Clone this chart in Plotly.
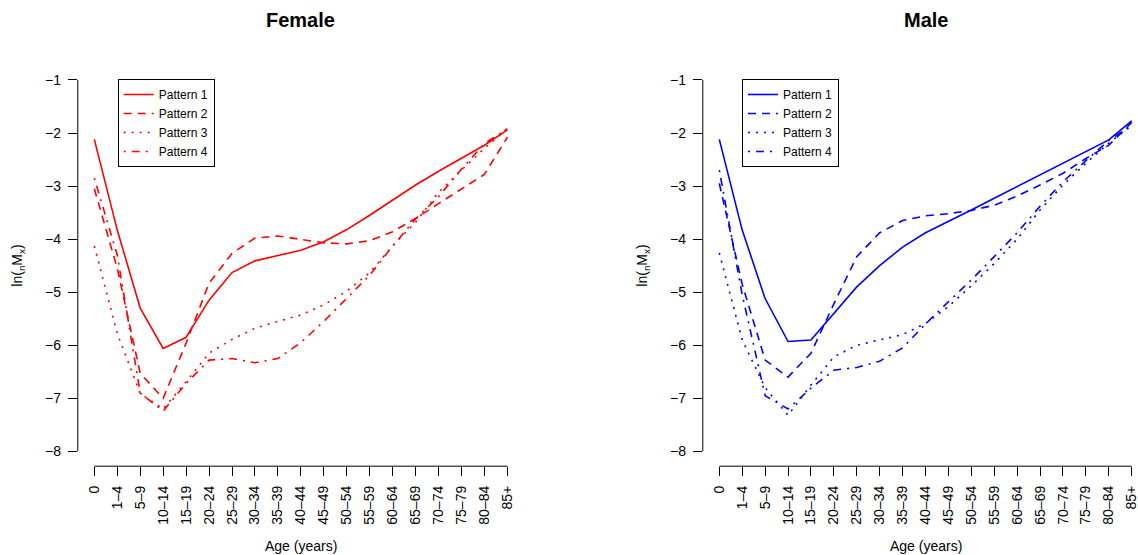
import plotly.graph_objects as go

age_groups = ["0", "1–4", "5–9", "10–14", "15–19", "20–24", "25–29", "30–34", "35–39",
              "40–44", "45–49", "50–54", "55–59", "60–64", "65–69", "70–74", "75–79",
              "80–84", "85+"]

female_p1 = [-2.12, -3.83, -5.30, -6.06, -5.85, -5.15, -4.63, -4.41, -4.31, -4.21, -4.05, -3.82, -3.55, -3.26, -2.98, -2.72, -2.48, -2.23, -1.94]
female_p2 = [-3.05, -4.55, -6.53, -7.00, -5.96, -4.83, -4.27, -3.98, -3.94, -4.00, -4.07, -4.09, -4.03, -3.86, -3.61, -3.33, -3.05, -2.78, -2.08]
female_p3 = [-4.13, -5.78, -6.91, -7.20, -6.69, -6.15, -5.89, -5.68, -5.55, -5.43, -5.24, -4.98, -4.63, -4.13, -3.68, -3.12, -2.70, -2.29, -1.91]
female_p4 = [-2.85, -4.30, -6.90, -7.24, -6.72, -6.28, -6.25, -6.33, -6.25, -5.95, -5.55, -5.12, -4.68, -4.13, -3.62, -3.20, -2.68, -2.20, -1.92]

male_p1 = [-2.12, -3.83, -5.12, -5.93, -5.90, -5.40, -4.90, -4.50, -4.15, -3.88, -3.67, -3.45, -3.23, -3.01, -2.79, -2.57, -2.35, -2.13, -1.77]
male_p2 = [-2.95, -4.85, -6.28, -6.60, -6.15, -5.22, -4.33, -3.88, -3.65, -3.56, -3.52, -3.46, -3.36, -3.19, -2.98, -2.76, -2.48, -2.23, -1.80]
male_p3 = [-4.26, -5.90, -6.80, -7.32, -6.75, -6.22, -6.00, -5.90, -5.80, -5.59, -5.27, -4.88, -4.46, -4.00, -3.45, -2.98, -2.57, -2.19, -1.86]
male_p4 = [-2.70, -5.05, -6.95, -7.20, -6.81, -6.47, -6.42, -6.30, -6.05, -5.60, -5.18, -4.77, -4.33, -3.88, -3.38, -2.92, -2.52, -2.14, -1.85]

pattern_names = ["Pattern 1", "Pattern 2", "Pattern 3", "Pattern 4"]
y_ticks = [-8, -7, -6, -5, -4, -3, -2, -1]
y_ticktext = ["\u2212" + str(abs(v)) for v in y_ticks]

W, H = 1138, 555
dashes = ["solid", "8px,6px", "2px,6px", "2px,6px,8px,6px"]
FONT = "Liberation Sans, Arial, Helvetica, sans-serif"

fig = go.Figure()
female = [female_p1, female_p2, female_p3, female_p4]
male = [male_p1, male_p2, male_p3, male_p4]
for name, vals, d in zip(pattern_names, female, dashes):
    fig.add_trace(go.Scatter(x=age_groups, y=vals, mode="lines", name=name,
                             line=dict(color="#FF0000", width=1.6, dash=d),
                             xaxis="x", yaxis="y", legend="legend"))
for name, vals, d in zip(pattern_names, male, dashes):
    fig.add_trace(go.Scatter(x=age_groups, y=vals, mode="lines", name=name,
                             line=dict(color="#0000FF", width=1.6, dash=d),
                             xaxis="x2", yaxis="y2", legend="legend2"))

ydom = [1 - 466.2 / H, 1 - 65.1 / H]
fx = [77.8 / W, 523.9 / W]
mx = [702.8 / W, 1.0]

xcommon = dict(type="category", categoryorder="array", categoryarray=age_groups,
               showgrid=False, zeroline=False, showline=False,
               ticks="outside", ticklen=9, tickwidth=1, tickcolor="black",
               tickangle=-90, ticklabelstandoff=4,
               tickfont=dict(family=FONT, size=14, color="black"))
ycommon = dict(range=[-8.28, -0.72], showgrid=False, zeroline=False, showline=False,
               tickvals=y_ticks, ticktext=y_ticktext,
               ticks="outside", ticklen=9, tickwidth=1, tickcolor="black",
               ticklabelstandoff=4,
               tickfont=dict(family=FONT, size=14, color="black"))

fig.update_layout(
    width=W, height=H, autosize=False,
    margin=dict(l=0, r=0, t=0, b=0),
    paper_bgcolor="white", plot_bgcolor="white",
    xaxis=dict(domain=fx, range=[-0.72, 18.72], anchor="y", **xcommon),
    yaxis=dict(domain=ydom, anchor="x", **ycommon),
    xaxis2=dict(domain=mx, range=[-0.72, 18.275], anchor="y2", **xcommon),
    yaxis2=dict(domain=ydom, anchor="x2", **ycommon),
    legend=dict(x=117.7 / W, y=1 - 79 / H, xanchor="left", yanchor="top",
                bordercolor="black", borderwidth=1, bgcolor="white",
                font=dict(family=FONT, size=12, color="black"),
                tracegroupgap=0, itemwidth=30),
    legend2=dict(x=742 / W, y=1 - 79 / H, xanchor="left", yanchor="top",
                 bordercolor="black", borderwidth=1, bgcolor="white",
                 font=dict(family=FONT, size=12, color="black"),
                 tracegroupgap=0, itemwidth=30),
    showlegend=True,
)

# R-style axis lines spanning only the tick range
for xa, ya in [("x", "y"), ("x2", "y2")]:
    fig.add_shape(type="line", xref=xa + " domain", yref=ya, x0=0, x1=0, y0=-8, y1=-1,
                  line=dict(color="black", width=1))
    fig.add_shape(type="line", xref=xa, yref=ya + " domain", x0=0, x1=18, y0=0, y1=0,
                  line=dict(color="black", width=1))

for title, dom in [("Female", fx), ("Male", [702.8 / W, 1148.2 / W])]:
    cx = (dom[0] + dom[1]) / 2
    fig.add_annotation(text="<b>" + title + "</b>", x=cx, y=1 - 20 / H, xref="paper", yref="paper",
                       showarrow=False, xanchor="center", yanchor="middle",
                       font=dict(family=FONT, size=20, color="black"))
    fig.add_annotation(text="Age (years)", x=cx, y=1 - 546 / H, xref="paper", yref="paper",
                       showarrow=False, xanchor="center", yanchor="middle",
                       font=dict(family=FONT, size=14, color="black"))

for xpix in [18, 643]:
    fig.add_annotation(text="ln(<sub>n</sub>M<sub>x</sub>)", x=xpix / W, y=(ydom[0] + ydom[1]) / 2,
                       xref="paper", yref="paper", showarrow=False, textangle=-90,
                       xanchor="center", yanchor="middle",
                       font=dict(family=FONT, size=14, color="black"))

fig.write_html("out.html")
